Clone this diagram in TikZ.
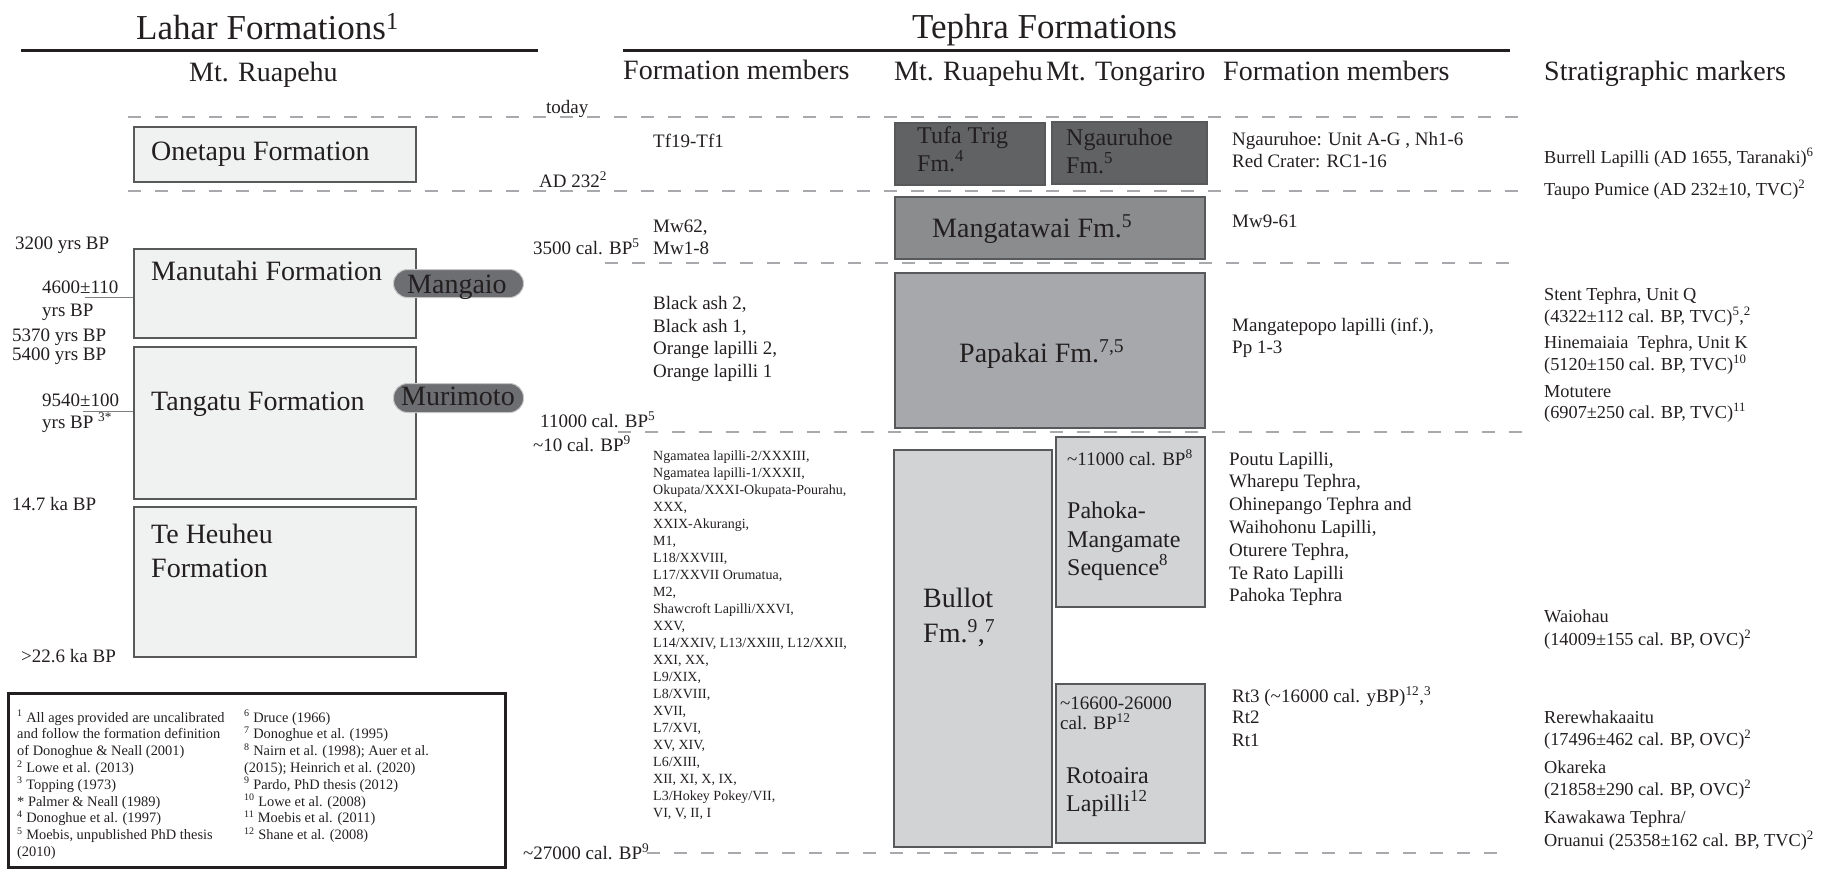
\documentclass[tikz,border=0pt]{standalone}
\usepackage{fontspec}
\setmainfont{Liberation Serif}
\usepackage{tikz}
\usetikzlibrary{positioning}
\definecolor{ink}{HTML}{231F20}
\definecolor{rim}{HTML}{58595B}
\definecolor{lahar}{HTML}{F0F1F1}
\definecolor{tdark}{HTML}{616264}
\definecolor{tmid}{HTML}{8B8C8E}
\definecolor{tpap}{HTML}{A6A8AB}
\definecolor{tlight}{HTML}{D1D3D4}
\definecolor{pillc}{HTML}{6D6E71}
\definecolor{dashc}{HTML}{A7A9AC}

\newcommand\fTitle{\fontsize{35}{40}\selectfont}
\newcommand\fHead{\fontsize{28}{32}\selectfont}
\newcommand\fUnit{\fontsize{28}{32}\selectfont}
\newcommand\fFm{\fontsize{24}{28}\selectfont}
\newcommand\fAge{\fontsize{19}{22}\selectfont}
\newcommand\fMark{\fontsize{18.3}{22}\selectfont}
\newcommand\fList{\fontsize{14}{17}\selectfont}
\newcommand\fNote{\fontsize{14.4}{17}\selectfont}
\newcommand\ssp[1]{\textsuperscript{#1}}

\tikzset{
  txt/.style={anchor=base west, inner sep=0pt, text=ink},
  unitbox/.style={draw=rim, line width=1.6pt, anchor=north west, inner sep=0pt},
  pill/.style={fill=pillc, draw=gray!45, line width=1pt, rounded corners=14pt,
    anchor=north west, inner sep=0pt},
  rule/.style={ink, line width=3pt},
  timeline/.style={dashc, line width=1.5pt, dash pattern=on 13pt off 14pt},
  agetick/.style={gray, line width=1pt},
}

\begin{document}
\begin{tikzpicture}[x=1pt, y=-1pt]
  \useasboundingbox (0,0) rectangle (1822,868);

  % Kopfzeilen
  \draw[rule] (21,50) -- (538,50);
  \draw[rule] (623,50) -- (1510,50);
  \node[txt, font=\fTitle] (lahartitle) at (136,39) {Lahar Formations\ssp{1}};
  \node[txt, font=\fTitle] (tephratitle) at (912,38) {Tephra Formations};
  \node[txt, font=\fHead] (hruap) at (189,81) {Mt. Ruapehu};
  \node[txt, font=\fHead] (hmemA) at (623,79) {Formation members};
  \node[txt, font=\fHead] (hruapT) at (894,80) {Mt. Ruapehu};
  \node[txt, font=\fHead] (htong) at (1046,80) {Mt. Tongariro};
  \node[txt, font=\fHead] (hmemB) at (1223,80) {Formation members};
  \node[txt, font=\fHead] (hmark) at (1544,80) {Stratigraphic markers};

  % Zeitlinien
  \foreach \y/\xa/\xb in {117/128/1527, 191/128/1527, 263/605/1518,
                          432/618/1522, 853/647/1507}
    \draw[timeline] (\xa,\y) -- (\xb,\y);

  % Lahar
  \node[unitbox, fill=lahar, minimum width=282pt, minimum height=55pt] (onetapu) at (133,126) {};
  \node[unitbox, fill=lahar, minimum width=282pt, minimum height=89pt] (manutahi) at (133,248) {};
  \node[unitbox, fill=lahar, minimum width=282pt, minimum height=152pt] (tangatu) at (133,346) {};
  \node[unitbox, fill=lahar, minimum width=282pt, minimum height=150pt] (teheuheu) at (133,506) {};
  \node[txt, font=\fUnit] (onetapuL) at (151,160) {Onetapu Formation};
  \node[txt, font=\fUnit] (manutahiL) at (151,280) {Manutahi Formation};
  \node[txt, font=\fUnit] (tangatuL) at (151,410) {Tangatu Formation};
  \node[txt, font=\fUnit] (teheuheuL) at (151,543) {Te Heuheu};
  \node[txt, font=\fUnit] (teheuheuM) at (151,577) {Formation};
  \node[pill, minimum width=130pt, minimum height=28pt] (mangaio) at (393,269) {};
  \node[pill, minimum width=130pt, minimum height=29pt] (murimoto) at (393,383) {};
  \node[txt, font=\fUnit] (mangaioL) at (407,293) {Mangaio};
  \node[txt, font=\fUnit] (murimotoL) at (401,405) {Murimoto};

  % Alter links
  \node[txt, font=\fAge] (a3200) at (15,249) {3200 yrs BP};
  \node[txt, font=\fAge] (a4600) at (42,293) {4600±110};
  \node[txt, font=\fAge] (a4600b) at (42,316) {yrs BP};
  \node[txt, font=\fAge] (a5370) at (12,341) {5370 yrs BP};
  \node[txt, font=\fAge] (a5400) at (12,360) {5400 yrs BP};
  \node[txt, font=\fAge] (a9540) at (42,406) {9540±100};
  \node[txt, font=\fAge] (a9540b) at (42,428) {yrs BP \ssp{3*}};
  \node[txt, font=\fAge] (a147) at (12,510) {14.7 ka BP};
  \node[txt, font=\fAge] (a226) at (21,662) {>22.6 ka BP};
  \coordinate (t4600) at (85,297);
  \coordinate (t9540) at (83,411);
  \draw[agetick] (t4600) -- (t4600 -| manutahi.west);
  \draw[agetick] (t9540) -- (t9540 -| tangatu.west);

  % Legende
  \node[draw=ink, line width=2.5pt, anchor=north west, inner sep=0pt,
        minimum width=497pt, minimum height=174pt] (legend) at (7,692) {};
  \foreach \t [count=\i from 0] in {{\ssp{1} All ages provided are uncalibrated},
      {and follow the formation definition}, {of Donoghue \& Neall (2001)},
      {\ssp{2} Lowe et al. (2013)}, {\ssp{3} Topping (1973)},
      {* Palmer \& Neall (1989)}, {\ssp{4} Donoghue et al. (1997)},
      {\ssp{5} Moebis, unpublished PhD thesis}, {(2010)}}
    \node[txt, font=\fNote] (noteA\i) at (17,722+16.8*\i) {\t};
  \foreach \t [count=\i from 0] in {{\ssp{6} Druce (1966)},
      {\ssp{7} Donoghue et al. (1995)}, {\ssp{8} Nairn et al. (1998); Auer et al.},
      {(2015); Heinrich et al. (2020)}, {\ssp{9} Pardo, PhD thesis (2012)},
      {\ssp{10} Lowe et al. (2008)}, {\ssp{11} Moebis et al. (2011)},
      {\ssp{12} Shane et al. (2008)}}
    \node[txt, font=\fNote] (noteB\i) at (244,722+16.8*\i) {\t};

  % Alter Mitte
  \node[txt, font=\fAge] (today) at (546,113) {today};
  \node[txt, font=\fAge] (ad232) at (539,187) {AD 232\ssp{2}};
  \node[txt, font=\fAge] (c3500) at (533,254) {3500 cal. BP\ssp{5}};
  \node[txt, font=\fAge] (c11000) at (540,427) {11000 cal. BP\ssp{5}};
  \node[txt, font=\fAge] (c10) at (533,451) {\textasciitilde10 cal. BP\ssp{9}};
  \node[txt, font=\fAge] (c27000) at (523,859) {\textasciitilde27000 cal. BP\ssp{9}};

  % Glieder Ruapehu
  \foreach \y/\t in {147/{Tf19-Tf1}, 232/{Mw62,}, 254/{Mw1-8}, 309/{Black ash 2,},
                     332/{Black ash 1,}, 354/{Orange lapilli 2,}, 377/{Orange lapilli 1}}
    \node[txt, font=\fAge] (memA\y) at (653,\y) {\t};
  \foreach \t [count=\i from 0] in {{Ngamatea lapilli-2/XXXIII,},
      {Ngamatea lapilli-1/XXXII,}, {Okupata/XXXI-Okupata-Pourahu,}, {XXX,},
      {XXIX-Akurangi,}, {M1,}, {L18/XXVIII,}, {L17/XXVII Orumatua,}, {M2,},
      {Shawcroft Lapilli/XXVI,}, {XXV,}, {L14/XXIV, L13/XXIII, L12/XXII,},
      {XXI, XX,}, {L9/XIX,}, {L8/XVIII,}, {XVII,}, {L7/XVI,}, {XV, XIV,},
      {L6/XIII,}, {XII, XI, X, IX,}, {L3/Hokey Pokey/VII,}, {VI, V, II, I}}
    \node[txt, font=\fList] (bul\i) at (653,460+17*\i) {\t};

  % Tephra
  \node[unitbox, fill=tdark, minimum width=150pt, minimum height=62pt] (tufa) at (894,122) {};
  \node[unitbox, fill=tdark, minimum width=155pt, minimum height=62pt] (ngauru) at (1051,121) {};
  \node[unitbox, fill=tmid, minimum width=310pt, minimum height=62pt] (mangatawai) at (894,196) {};
  \node[unitbox, fill=tpap, minimum width=310pt, minimum height=155pt] (papakai) at (894,272) {};
  \node[unitbox, fill=tlight, minimum width=158pt, minimum height=397pt] (bullot) at (893,449) {};
  \node[unitbox, fill=tlight, minimum width=149pt, minimum height=170pt] (pahoka) at (1055,436) {};
  \node[unitbox, fill=tlight, minimum width=149pt, minimum height=159pt] (rotoaira) at (1055,683) {};
  \node[txt, font=\fFm] (tufaL) at (917,143) {Tufa Trig};
  \node[txt, font=\fFm] (tufaM) at (917,171) {Fm.\ssp{4}};
  \node[txt, font=\fFm] (ngauruL) at (1066,145) {Ngauruhoe};
  \node[txt, font=\fFm] (ngauruM) at (1066,173) {Fm.\ssp{5}};
  \node[txt, font=\fUnit] (mangatawaiL) at (932,237) {Mangatawai Fm.\ssp{5}};
  \node[txt, font=\fUnit] (papakaiL) at (959,362) {Papakai Fm.\ssp{7,5}};
  \node[txt, font=\fUnit] (bullotL) at (923,607) {Bullot};
  \node[txt, font=\fUnit] (bullotM) at (923,642) {Fm.\ssp{9},\ssp{7}};
  \node[txt, font=\fAge] (pahokaA) at (1067,465) {\textasciitilde11000 cal. BP\ssp{8}};
  \node[txt, font=\fFm] (pahokaL) at (1067,518) {Pahoka-};
  \node[txt, font=\fFm] (pahokaM) at (1067,547) {Mangamate};
  \node[txt, font=\fFm] (pahokaN) at (1067,575) {Sequence\ssp{8}};
  \node[txt, font=\fAge] (rotoA) at (1060,709) {\textasciitilde16600-26000};
  \node[txt, font=\fAge] (rotoB) at (1060,729) {cal. BP\ssp{12}};
  \node[txt, font=\fFm] (rotoL) at (1066,783) {Rotoaira};
  \node[txt, font=\fFm] (rotoM) at (1066,811) {Lapilli\ssp{12}};

  % Glieder Tongariro
  \foreach \y/\t in {145/{Ngauruhoe: Unit A-G , Nh1-6}, 167/{Red Crater: RC1-16},
                     227/{Mw9-61}, 331/{Mangatepopo lapilli (inf.),}, 353/{Pp 1-3},
                     702/{Rt3 (\textasciitilde16000 cal. yBP)\ssp{12},\ssp{3}},
                     723/{Rt2}, 746/{Rt1}}
    \node[txt, font=\fAge] (memB\y) at (1232,\y) {\t};
  \foreach \t [count=\i from 0] in {{Poutu Lapilli,}, {Wharepu Tephra,},
      {Ohinepango Tephra and}, {Waihohonu Lapilli,}, {Oturere Tephra,},
      {Te Rato Lapilli}, {Pahoka Tephra}}
    \node[txt, font=\fAge] (pmem\i) at (1229,465+22.8*\i) {\t};

  % Marker
  \foreach \y/\t in {163/{Burrell Lapilli (AD 1655, Taranaki)\ssp{6}},
      195/{Taupo Pumice (AD 232±10, TVC)\ssp{2}},
      300/{Stent Tephra, Unit Q}, 322/{(4322±112 cal. BP, TVC)\ssp{5},\ssp{2}},
      348/{Hinemaiaia\ \ Tephra, Unit K}, 370/{(5120±150 cal. BP, TVC)\ssp{10}},
      397/{Motutere}, 418/{(6907±250 cal. BP, TVC)\ssp{11}},
      622/{Waiohau}, 645/{(14009±155 cal. BP, OVC)\ssp{2}},
      723/{Rerewhakaaitu}, 745/{(17496±462 cal. BP, OVC)\ssp{2}},
      773/{Okareka}, 795/{(21858±290 cal. BP, OVC)\ssp{2}},
      823/{Kawakawa Tephra/}, 846/{Oruanui (25358±162 cal. BP, TVC)\ssp{2}}}
    \node[txt, font=\fMark] (mark\y) at (1544,\y) {\t};
\end{tikzpicture}
\end{document}
